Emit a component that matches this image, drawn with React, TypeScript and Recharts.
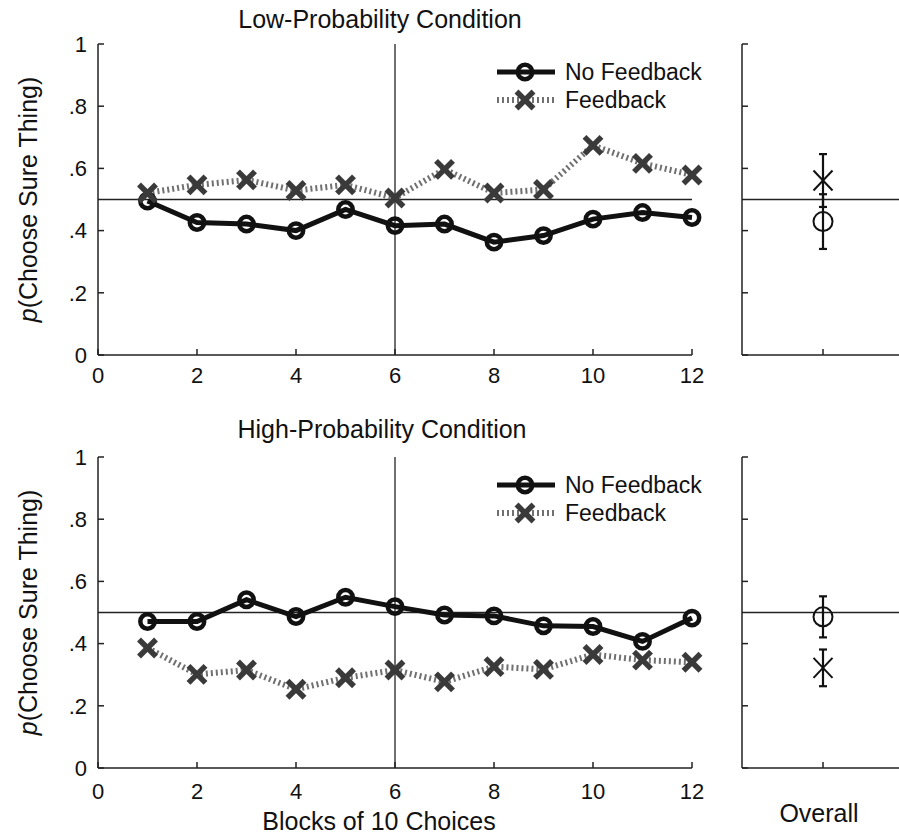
import React from "react";
import {
  LineChart,
  Line,
  ScatterChart,
  Scatter,
  ErrorBar,
  XAxis,
  YAxis,
  ReferenceLine,
  Legend,
} from "recharts";

// blocks of 10 choices
const blocks = [1, 2, 3, 4, 5, 6, 7, 8, 9, 10, 11, 12];

const lowNoFeedback = [0.495, 0.426, 0.421, 0.4, 0.468, 0.416, 0.421, 0.363, 0.384, 0.437, 0.458, 0.442];
const lowFeedback = [0.521, 0.547, 0.563, 0.529, 0.547, 0.505, 0.597, 0.521, 0.532, 0.674, 0.616, 0.579];
const highNoFeedback = [0.471, 0.471, 0.541, 0.487, 0.549, 0.519, 0.492, 0.489, 0.457, 0.455, 0.407, 0.482];
const highFeedback = [0.386, 0.301, 0.315, 0.253, 0.29, 0.315, 0.277, 0.326, 0.317, 0.365, 0.347, 0.34];

// overall means (+/- error), order: No Feedback, Feedback
const overallLowMeans = [0.429, 0.561];
const overallLowErrors = [0.088, 0.085];
const overallHighMeans = [0.486, 0.322];
const overallHighErrors = [0.066, 0.059];

const xTicks = [0, 2, 4, 6, 8, 10, 12];
const yTicks = [0, 0.2, 0.4, 0.6, 0.8, 1];

const FONT = "'Liberation Sans', Arial, Helvetica, sans-serif";
const AXIS = "#222";

const fmtY = (v: number) => (v === 0 ? "0" : v === 1 ? "1" : v.toFixed(1).replace(/^0/, ""));

const makeRows = (noFb: number[], fb: number[]) =>
  blocks.map((b, i) => ({ block: b, noFeedback: noFb[i], feedback: fb[i] }));

const lowData = makeRows(lowNoFeedback, lowFeedback);
const highData = makeRows(highNoFeedback, highFeedback);

const CircleDot = (props: any) => {
  const { cx, cy, index } = props;
  if (cx == null || cy == null) return <g key={index} />;
  return <circle key={index} cx={cx} cy={cy} r={7.2} fill="none" stroke="#111" strokeWidth={4.5} />;
};

const CrossDot = (props: any) => {
  const { cx, cy, index } = props;
  if (cx == null || cy == null) return <g key={index} />;
  const s = 8.5;
  return (
    <g key={index} stroke="#3a3a3a" strokeWidth={5.5} strokeLinecap="butt">
      <line x1={cx - s} y1={cy - s} x2={cx + s} y2={cy + s} />
      <line x1={cx - s} y1={cy + s} x2={cx + s} y2={cy - s} />
    </g>
  );
};

const renderLegend = () => (
  <div style={{ fontFamily: FONT, fontSize: 23, color: "#111" }}>
    <div style={{ display: "flex", alignItems: "center", height: 28 }}>
      <svg width={60} height={28}>
        <line x1={2} y1={14} x2={60} y2={14} stroke="#111" strokeWidth={5} />
        <circle cx={30} cy={14} r={7.2} fill="none" stroke="#111" strokeWidth={4.5} />
      </svg>
      <span style={{ marginLeft: 10 }}>No Feedback</span>
    </div>
    <div style={{ display: "flex", alignItems: "center", height: 28 }}>
      <svg width={60} height={28}>
        <line x1={2} y1={14} x2={60} y2={14} stroke="#707070" strokeWidth={6} strokeDasharray="2 3" />
        <g stroke="#3a3a3a" strokeWidth={5.5}>
          <line x1={21.5} y1={5.5} x2={38.5} y2={22.5} />
          <line x1={21.5} y1={22.5} x2={38.5} y2={5.5} />
        </g>
      </svg>
      <span style={{ marginLeft: 10 }}>Feedback</span>
    </div>
  </div>
);

const yLabel = (props: any) => {
  const vb = props.viewBox || {};
  const cy = vb.y + vb.height / 2;
  return (
    <text
      x={37}
      y={cy}
      transform={`rotate(-90, 37, ${cy})`}
      textAnchor="middle"
      fontSize={25}
      fill="#111"
      fontFamily={FONT}
    >
      <tspan fontStyle="italic">p</tspan>
      <tspan>(Choose Sure Thing)</tspan>
    </text>
  );
};

const blocksLabel = (props: any) => {
  const vb = props.viewBox || {};
  return (
    <text x={379} y={vb.y + 62} textAnchor="middle" fontSize={25} fill="#111" fontFamily={FONT}>
      Blocks of 10 Choices
    </text>
  );
};

const overallLabel = (props: any) => {
  const vb = props.viewBox || {};
  return (
    <text x={119} y={vb.y + 54} textAnchor="middle" fontSize={25} fill="#111" fontFamily={FONT}>
      Overall
    </text>
  );
};

const tickStyle = { fill: "#111", fontSize: 22, fontFamily: FONT };

function BlockPanel({ data, top, height, xHeight, xMargin, showLegend, bottomLabel }: any) {
  return (
    <div style={{ position: "absolute", left: 0, top }}>
      <LineChart width={720} height={height} data={data} margin={{ top: 44, right: 28, left: 0, bottom: 0 }}>
        <XAxis
          dataKey="block"
          type="number"
          domain={[0, 12]}
          ticks={xTicks}
          interval={0}
          height={xHeight}
          tickSize={-6}
          tickMargin={xMargin}
          tick={tickStyle}
          axisLine={{ stroke: AXIS, strokeWidth: 1.5 }}
          tickLine={{ stroke: AXIS, strokeWidth: 1.5 }}
          label={bottomLabel ? blocksLabel : undefined}
        />
        <YAxis
          type="number"
          domain={[0, 1]}
          ticks={yTicks}
          interval={0}
          width={98}
          tickSize={-6}
          tickMargin={17}
          tickFormatter={fmtY}
          tick={tickStyle}
          axisLine={{ stroke: AXIS, strokeWidth: 1.5 }}
          tickLine={{ stroke: AXIS, strokeWidth: 1.5 }}
          label={yLabel}
        />
        <ReferenceLine y={0.5} stroke="#222" strokeWidth={1.3} />
        <ReferenceLine x={6} stroke="#222" strokeWidth={1.3} />
        <Line
          dataKey="noFeedback"
          stroke="#111"
          strokeWidth={5}
          dot={CircleDot}
          activeDot={false}
          isAnimationActive={false}
        />
        <Line
          dataKey="feedback"
          stroke="#707070"
          strokeWidth={6}
          strokeDasharray="2 3"
          dot={CrossDot}
          activeDot={false}
          isAnimationActive={false}
        />
        {showLegend && (
          <Legend
            layout="vertical"
            align="center"
            verticalAlign="middle"
            wrapperStyle={{ left: 495, top: 58, width: 230, height: 56 }}
            content={renderLegend}
          />
        )}
      </LineChart>
    </div>
  );
}

function OverallPanel({ means, errors, top, height, xHeight, bottomLabel }: any) {
  const noFb = [{ x: 1, y: means[0], err: errors[0] }];
  const fb = [{ x: 1, y: means[1], err: errors[1] }];
  return (
    <div style={{ position: "absolute", left: 700, top }}>
      <ScatterChart width={204} height={height} margin={{ top: 44, right: 0, left: 0, bottom: 0 }}>
        <XAxis
          dataKey="x"
          type="number"
          domain={[0, 2]}
          ticks={[1]}
          height={xHeight}
          tickSize={-6}
          tickFormatter={() => ""}
          axisLine={{ stroke: AXIS, strokeWidth: 1.5 }}
          tickLine={{ stroke: AXIS, strokeWidth: 1.5 }}
          label={bottomLabel ? overallLabel : undefined}
        />
        <YAxis
          dataKey="y"
          type="number"
          domain={[0, 1]}
          ticks={yTicks}
          interval={0}
          width={42}
          tickSize={-6}
          tickFormatter={() => ""}
          axisLine={{ stroke: AXIS, strokeWidth: 1.5 }}
          tickLine={{ stroke: AXIS, strokeWidth: 1.5 }}
        />
        <ReferenceLine y={0.5} stroke="#222" strokeWidth={1.3} />
        <Scatter
          data={noFb}
          isAnimationActive={false}
          shape={(p: any) => (
            <circle cx={p.cx} cy={p.cy} r={9.5} fill="none" stroke="#111" strokeWidth={2} />
          )}
        >
          <ErrorBar dataKey="err" direction="y" width={4} stroke="#111" strokeWidth={2.2} isAnimationActive={false} />
        </Scatter>
        <Scatter
          data={fb}
          isAnimationActive={false}
          shape={(p: any) => (
            <g stroke="#111" strokeWidth={2}>
              <line x1={p.cx - 9.5} y1={p.cy - 10} x2={p.cx + 9.5} y2={p.cy + 10} />
              <line x1={p.cx - 9.5} y1={p.cy + 10} x2={p.cx + 9.5} y2={p.cy - 10} />
            </g>
          )}
        >
          <ErrorBar dataKey="err" direction="y" width={4} stroke="#111" strokeWidth={2.2} isAnimationActive={false} />
        </Scatter>
      </ScatterChart>
    </div>
  );
}

const titleStyle: React.CSSProperties = {
  position: "absolute",
  width: 400,
  textAlign: "center",
  fontSize: 25,
  lineHeight: "25px",
  color: "#111",
  fontFamily: FONT,
  whiteSpace: "nowrap",
};

export default function App() {
  return (
    <div
      style={{
        position: "absolute",
        left: 0,
        top: 0,
        width: 899,
        height: 837,
        background: "#fff",
        overflow: "hidden",
        fontFamily: FONT,
      }}
    >
      <div style={{ ...titleStyle, left: 180, top: 7 }}>Low-Probability Condition</div>
      <div style={{ ...titleStyle, left: 182, top: 417 }}>High-Probability Condition</div>

      <BlockPanel data={lowData} top={0} height={400} xHeight={45} xMargin={18} showLegend />
      <BlockPanel data={highData} top={413} height={424} xHeight={69} xMargin={21} showLegend bottomLabel />

      <OverallPanel means={overallLowMeans} errors={overallLowErrors} top={0} height={400} xHeight={45} />
      <OverallPanel
        means={overallHighMeans}
        errors={overallHighErrors}
        top={413}
        height={424}
        xHeight={69}
        bottomLabel
      />
    </div>
  );
}
